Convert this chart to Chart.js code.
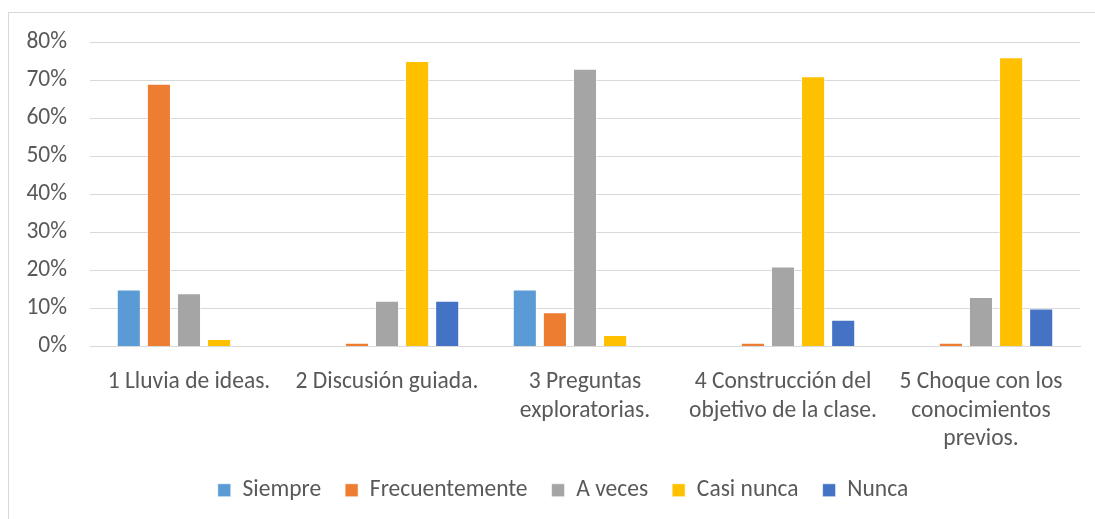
<!DOCTYPE html>
<html>
<head>
<meta charset="utf-8">
<script src="https://cdn.jsdelivr.net/npm/chart.js@4.4.1/dist/chart.umd.min.js"></script>
<style>
  html, body { margin: 0; padding: 0; background: #ffffff; }
  #wrap { position: absolute; left: 0; top: 0; width: 1095px; height: 519px; }
  #frame { position: absolute; left: 8px; top: 12px; width: 1100px; height: 520px; border: 1px solid #d9d9d9; box-sizing: border-box; }
  canvas { position: absolute; left: 0; top: 0; }
</style>
</head>
<body>
<div id="wrap">
  <div id="frame"></div>
  <canvas id="c" width="1095" height="519"></canvas>
</div>
<script>
const categories = [
  "1 Lluvia de ideas.",
  "2 Discusión guiada.",
  ["3 Preguntas", "exploratorias."],
  ["4 Construcción del", "objetivo de la clase."],
  ["5 Choque con los", "conocimientos", "previos."]
];
const seriesNames = ["Siempre", "Frecuentemente", "A veces", "Casi nunca", "Nunca"];
const siempre        = [15, 0, 15, 0, 0];
const frecuentemente = [69, 1, 9, 1, 1];
const aVeces         = [14, 12, 73, 21, 13];
const casiNunca      = [2, 75, 3, 71, 76];
const nunca          = [0, 12, 0, 7, 10];
const yTicks = [0, 10, 20, 30, 40, 50, 60, 70, 80];
const colors = ["#5b9bd5", "#ed7d31", "#a5a5a5", "#ffc000", "#4472c4"];

const FONT = "'Carlito', 'Liberation Sans Narrow', 'DejaVu Sans Condensed', 'Liberation Sans', sans-serif";
const TXT = "#595959";
const FS = 23.5;
const LEGEND_SHIFT = 13;

const values = [siempre, frecuentemente, aVeces, casiNunca, nunca];
const datasets = seriesNames.map((n, i) => ({
  label: n,
  data: values[i],
  backgroundColor: colors[i],
  borderColor: "rgba(255,255,255,0.6)",
  borderWidth: 1,
  categoryPercentage: 0.76,
  barPercentage: 0.8
}));

const legendShift = {
  id: "legendShift",
  afterLayout(chart) {
    if (chart.legend) {
      chart.legend.left += LEGEND_SHIFT;
      chart.legend.right += LEGEND_SHIFT;
    }
  }
};

new Chart(document.getElementById("c"), {
  type: "bar",
  data: { labels: categories, datasets },
  plugins: [legendShift],
  options: {
    responsive: false,
    animation: false,
    devicePixelRatio: 1,
    layout: { padding: { left: 20, right: 15, top: 42, bottom: 7 } },
    plugins: {
      tooltip: { enabled: false },
      legend: {
        position: "bottom",
        labels: {
          color: TXT,
          font: { family: FONT, size: FS },
          boxWidth: 13,
          boxHeight: 13,
          padding: 24
        }
      }
    },
    scales: {
      x: {
        grid: { display: false, drawTicks: false },
        border: { display: true, color: "#d9d9d9", width: 1 },
        ticks: {
          color: TXT,
          font: { family: FONT, size: FS, lineHeight: 1.2 },
          padding: 22,
          maxRotation: 0,
          autoSkip: false
        },
        afterFit: (s) => { s.height = 108; }
      },
      y: {
        min: 0,
        max: 80,
        afterBuildTicks: (s) => { s.ticks = yTicks.map(v => ({ value: v })); },
        grid: { color: "#d9d9d9", lineWidth: 1, drawTicks: false },
        border: { display: false },
        ticks: {
          color: TXT,
          font: { family: FONT, size: FS },
          padding: 23,
          callback: (v) => v + "%"
        },
        afterFit: (s) => { s.width = 70; }
      }
    }
  }
});
</script>
</body>
</html>
